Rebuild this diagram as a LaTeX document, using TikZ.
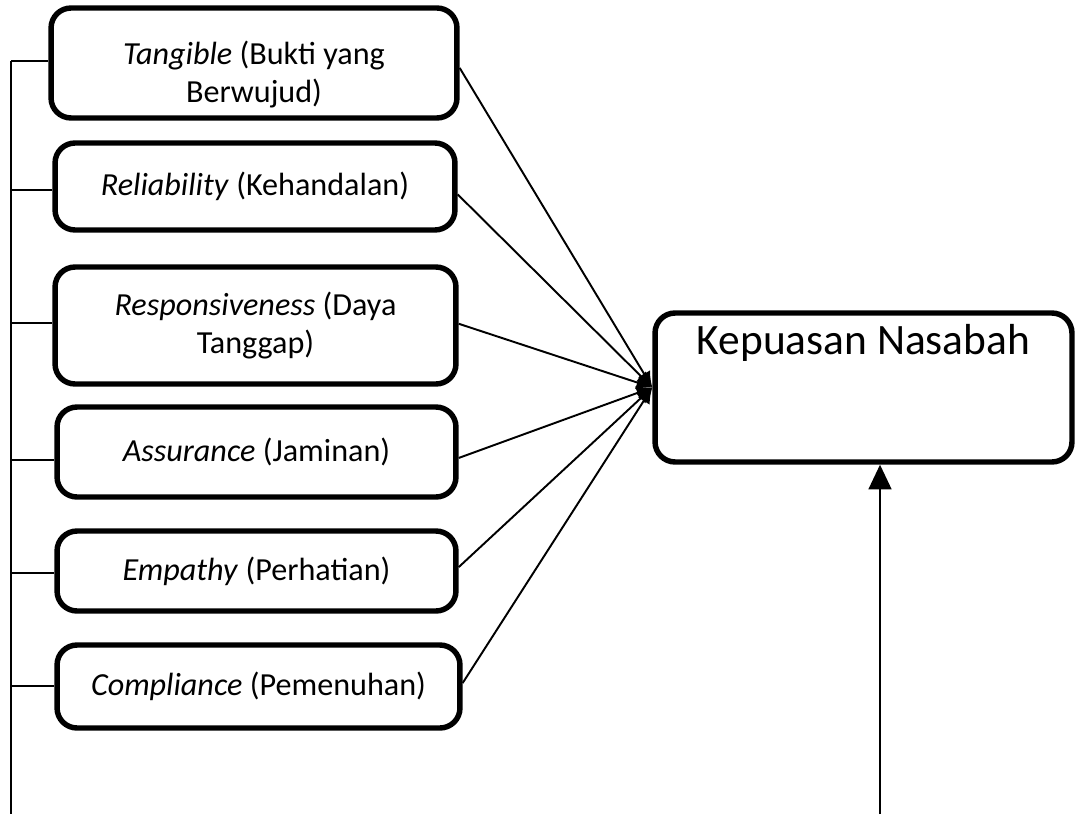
\documentclass[tikz,border=0pt]{standalone}
\usepackage{fontspec}
\setmainfont{Carlito}
\usetikzlibrary{arrows.meta}

\begin{document}
\begin{tikzpicture}[x=0.02cm,y=-0.02cm,line width=1.1pt,
    dim/.style={draw,line width=3.1pt,rounded corners=0.4cm,align=center,
      inner sep=0pt,font=\fontsize{18.3}{21.5}\selectfont},
    tip/.style={-{Latex[length=9pt,width=8pt]}}]
  \useasboundingbox (0,0) rectangle (1077,814);
  \draw
    (254,63) node[dim,minimum width=8.12cm,minimum height=2.2cm,
      text height=49pt,text depth=4.5pt] (t1)
      {\textit{Tangible} (Bukti yang\\Berwujud)}
    (255,186.5) node[dim,minimum width=8cm,minimum height=1.74cm] (t2)
      {\textit{Reliability} (Kehandalan)}
    (255.5,325.5) node[dim,minimum width=8.02cm,minimum height=2.34cm] (t3)
      {\textit{Responsiveness} (Daya\\Tanggap)}
    (256.5,452) node[dim,minimum width=7.98cm,minimum height=1.8cm] (t4)
      {\textit{Assurance} (Jaminan)}
    (256.5,571) node[dim,minimum width=7.98cm,minimum height=1.6cm] (t5)
      {\textit{Empathy} (Perhatian)}
    (258.5,686.5) node[dim,minimum width=8.06cm,minimum height=1.66cm] (t6)
      {\textit{Compliance} (Pemenuhan)}
    (863.5,387.5) node[dim,minimum width=8.34cm,text height=0.82cm,text depth=2.16cm,
      font=\fontsize{24.7}{29}\selectfont] (k) {Kepuasan Nasabah};
  % garis kiri
  \coordinate (top) at (11,61);
  \coordinate (bot) at (11,814);
  \draw (top) -- (bot);
  \begin{scope}[-]
    \draw (top) -- (t1.west |- top);
    \draw (11,190) -- (t2.west |- 0,190);
    \draw (11,323) -- (t3.west |- 0,323);
    \draw (11,460) -- (t4.west |- 0,460);
    \draw (11,573) -- (t5.west |- 0,573);
    \draw (11,686) -- (t6.west |- 0,686);
  \end{scope}
  % ke kepuasan
  \begin{scope}[tip]
    \draw ([yshift=-2.8pt]t1.east) -- (k.west);
    \draw ([yshift=-4.5pt]t2.east) -- (k.west);
    \draw ([yshift=1pt]t3.east) -- (k.west);
    \draw ([yshift=-3.4pt]t4.east) -- (k.west);
    \draw ([yshift=2.2pt]t5.east) -- (k.west);
    \draw ([yshift=2pt]t6.east) -- (k.west);
  \end{scope}
  \coordinate (base) at (880,814);
  \draw[-{Triangle[length=14pt,width=13pt]}] (base) -- (base |- k.south);
\end{tikzpicture}
\end{document}
